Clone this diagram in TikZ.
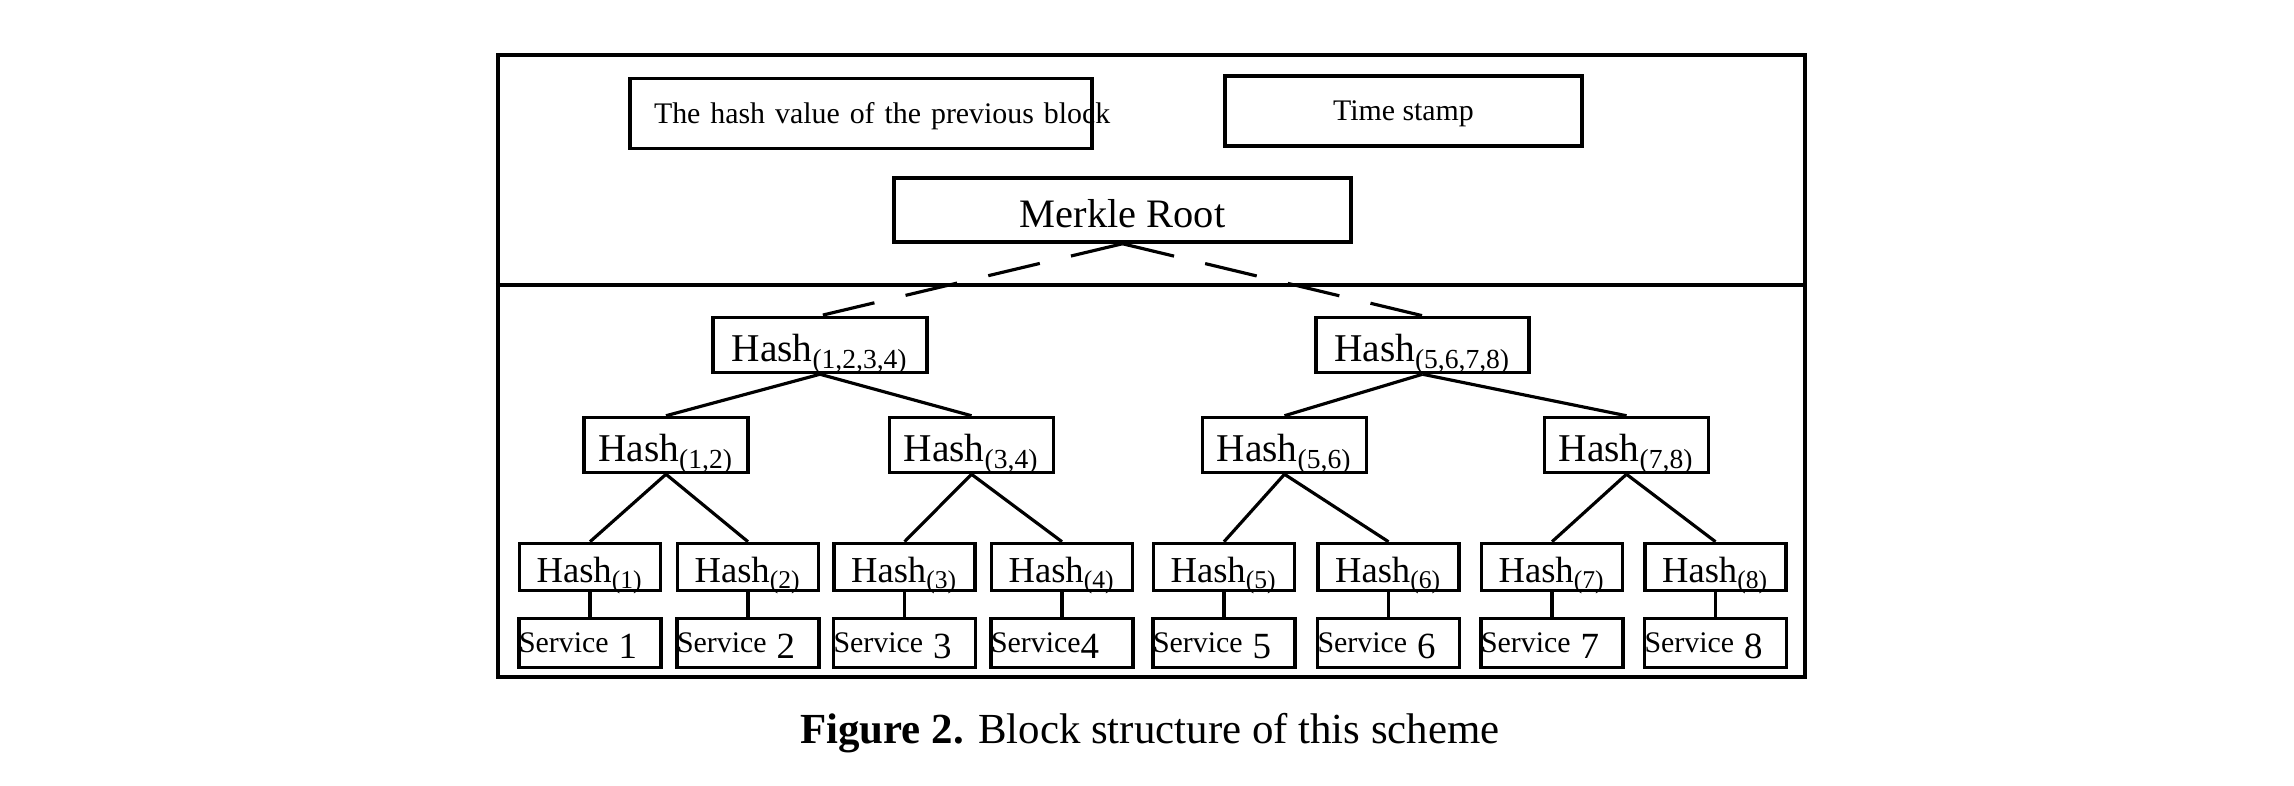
\documentclass[tikz,border=0pt]{standalone}
\usepackage{fontspec}
\setmainfont{Liberation Serif}
\usepackage{tikz}
\usetikzlibrary{positioning}
\newcommand{\servicenum}[1]{\raisebox{-0.06cm}{\fontsize{10.5}{12}\selectfont #1}}
\newcommand{\hsub}[1]{\raisebox{-0.2pt}{\textsubscript{#1}}}

\begin{document}
\begin{tikzpicture}[
    auto,
    node distance=1cm,
    font=\fontsize{8.5}{10}\selectfont,
    framebox/.style={
		rectangle,
		draw=black,
		line width=1.2pt,
		minimum width=13.07cm,
		minimum height=6.22cm
	},
    topbox/.style={
		rectangle,
		draw=black,
		line width=1pt,
		inner sep=0pt,
		text centered,
		minimum height=0.70cm,
		text height=0.45cm,
		text depth=0.25cm,
		fill=white
	},
	rootbox/.style={
		topbox,
		minimum width=4.57cm,
		minimum height=0.64cm,
		text height=0.50cm,
		text depth=0.14cm,
		font=\fontsize{11.5}{13}\selectfont
	},
	hashbox/.style={
		topbox,
		minimum width=1.64cm,
		minimum height=0.55cm,
		text height=0.44cm,
		text depth=0.11cm,
		font=\fontsize{11.2}{13}\selectfont
	},
	leafbox/.style={
		topbox,
		node distance=1.22cm,
		minimum width=1.41cm,
		minimum height=0.47cm,
		text height=0.39cm,
		text depth=0.08cm,
		font=\fontsize{10.4}{12}\selectfont
	},
	servicebox/.style={
		topbox,
		node distance=0.76cm,
		text width=1.42cm,
		align=left,
		minimum height=0.49cm,
		text height=0.34cm,
		text depth=0.15cm
	},
	treeline/.style={
		line width=0.9pt
	},
	dashline/.style={
		line width=0.9pt,
		dash pattern=on 0.53cm off 0.32cm
	}
  ]
  \useasboundingbox (0,0) rectangle (22.94,-7.86);

  % the block with its header and its body
  \node [framebox] (block) at (11.515,-3.66) {};
  \draw [line width=1.2pt] ([yshift=-2.32cm]block.north west) -- ([yshift=-2.32cm]block.north east);

    % We start by placing the header blocks
  \node [rootbox] (merkle) at (11.225,-2.10) {Merkle Root};
  \node [topbox, node distance=0.965cm, above of=merkle, xshift=-2.615cm, text width=4.14cm, inner xsep=0.24cm, align=left] (prevhash)
 {\hbox{The hash value of the previous block}};
  \node [topbox, node distance=0.99cm, above of=merkle, xshift=2.81cm, minimum width=3.57cm] (stamp) {Time stamp};

  % the hash tree
  \node [hashbox, minimum width=2.14cm, node distance=1.35cm, below of=merkle, xshift=-3.025cm] (h1234) {Hash\hsub{(1,2,3,4)}};
  \node [hashbox, minimum width=2.13cm, node distance=1.35cm, below of=merkle, xshift=3.0cm] (h5678) {Hash\hsub{(5,6,7,8)}};

  \node [hashbox, below of=h1234, xshift=-1.54cm] (h12) {Hash\hsub{(1,2)}};
  \node [hashbox, below of=h1234, xshift=1.515cm] (h34) {Hash\hsub{(3,4)}};
  \node [hashbox, below of=h5678, xshift=-1.38cm] (h56) {Hash\hsub{(5,6)}};
  \node [hashbox, below of=h5678, xshift=2.04cm] (h78) {Hash\hsub{(7,8)}};

  \node [leafbox, below of=h12, xshift=-0.76cm] (h1) {Hash\hsub{(1)}};
  \node [leafbox, below of=h12, xshift=0.82cm] (h2) {Hash\hsub{(2)}};
  \node [leafbox, below of=h34, xshift=-0.67cm] (h3) {Hash\hsub{(3)}};
  \node [leafbox, below of=h34, xshift=0.905cm] (h4) {Hash\hsub{(4)}};
  \node [leafbox, below of=h56, xshift=-0.605cm] (h5) {Hash\hsub{(5)}};
  \node [leafbox, below of=h56, xshift=1.04cm] (h6) {Hash\hsub{(6)}};
  \node [leafbox, below of=h78, xshift=-0.745cm] (h7) {Hash\hsub{(7)}};
  \node [leafbox, below of=h78, xshift=0.89cm] (h8) {Hash\hsub{(8)}};

  % the services under the leaves
  \node [servicebox, below of=h1] (s1) {Service \servicenum{1}};
  \node [servicebox, below of=h2] (s2) {Service \servicenum{2}};
  \node [servicebox, below of=h3] (s3) {Service \servicenum{3}};
  \node [servicebox, below of=h4] (s4) {Service\servicenum{4}};
  \node [servicebox, below of=h5] (s5) {Service \servicenum{5}};
  \node [servicebox, below of=h6] (s6) {Service \servicenum{6}};
  \node [servicebox, below of=h7] (s7) {Service \servicenum{7}};
  \node [servicebox, below of=h8] (s8) {Service \servicenum{8}};

 \draw [dashline] (merkle.south) -- (h1234.north);
 \draw [dashline] (merkle.south) -- (h5678.north);

 \draw [treeline] (h1234.south) -- (h12.north);
 \draw [treeline] (h1234.south) -- (h34.north);
 \draw [treeline] (h5678.south) -- (h56.north);
 \draw [treeline] (h5678.south) -- (h78.north);

 \draw [treeline] (h12.south) -- (h1.north);
 \draw [treeline] (h12.south) -- (h2.north);
 \draw [treeline] (h34.south) -- (h3.north);
 \draw [treeline] (h34.south) -- (h4.north);
 \draw [treeline] (h56.south) -- (h5.north);
 \draw [treeline] (h56.south) -- (h6.north);
 \draw [treeline] (h78.south) -- (h7.north);
 \draw [treeline] (h78.south) -- (h8.north);

 \draw [treeline] (h1.south) -- (s1.north);
 \draw [treeline] (h2.south) -- (s2.north);
 \draw [treeline] (h3.south) -- (s3.north);
 \draw [treeline] (h4.south) -- (s4.north);
 \draw [treeline] (h5.south) -- (s5.north);
 \draw [treeline] (h6.south) -- (s6.north);
 \draw [treeline] (h7.south) -- (s7.north);
 \draw [treeline] (h8.south) -- (s8.north);

  % caption
  \node [anchor=base, font=\fontsize{12.2}{14}\selectfont] (caption) at (11.50,-7.44) {\textbf{Figure 2.} Block structure of this scheme};

\end{tikzpicture}
\end{document}
